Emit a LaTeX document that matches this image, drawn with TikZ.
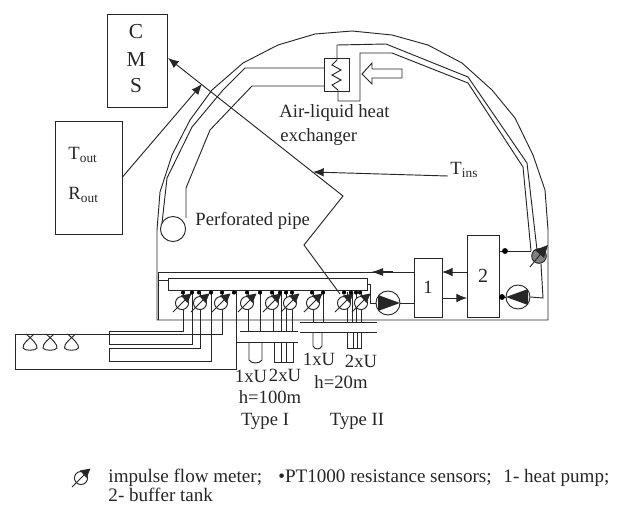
\documentclass[tikz,border=0pt]{standalone}
\usepackage{fontspec}
\usetikzlibrary{arrows.meta}
\setmainfont{Liberation Serif}
\newcommand{\sbt}[1]{\textsubscript{\fontsize{10}{11}\selectfont #1}}
\begin{document}
\begin{tikzpicture}[x=0.75pt,y=-0.75pt,line width=0.7pt,black!85,
  lbl/.style={inner sep=0pt,font=\fontsize{14}{16}\selectfont},
  cmsl/.style={inner sep=0pt,font=\fontsize{16}{18}\selectfont},
  leftl/.style={lbl,anchor=west},
  legl/.style={inner sep=0pt,anchor=west,font=\fontsize{14.3}{16}\selectfont},
  rbox/.style={draw,inner sep=0pt,rectangle},
  meter/.style={draw,fill=white,circle,inner sep=0pt,minimum size=9.8pt},
  pump/.style={draw,circle,inner sep=0pt,minimum size=18pt},
  sdot/.style={circle,fill=black,draw=none,inner sep=0pt,minimum size=3.1pt},
  jdot/.style={circle,fill=black,draw=none,inner sep=0pt,minimum size=4.4pt},
  arr/.style={-{Latex[length=8pt,width=6.5pt]}}]
\useasboundingbox (0,0) rectangle (623,511);
% dome and base
\draw (157,320) -- (157,230) -- (160,192) -- (172,155) -- (190,120) -- (212,90) -- (243,63) -- (278,45) -- (315,34) -- (352,31) -- (392,35) -- (428,45) -- (462,63) -- (492,90) -- (515,118) -- (533,155) -- (545,190) -- (548,230) -- (548,320) -- cycle;
% perforated pipe
\node[draw,circle,inner sep=0pt,minimum size=18.8pt] (perf) at (173,229) {};
\node[rbox,minimum width=18.75pt,minimum height=24.75pt] (hx) at (336.5,74.5) {};
\coordinate (hxa) at (324,68);
\coordinate (hxb) at (324,86);
\draw (162,223) -- (167,178) -- (192,127) -- (223,90) -- (245,68) -- (hxa);
\draw (186,218) -- (186,188) -- (210,130) -- (252,86) -- (hxb);
% heat exchanger coil and supply pipes
\draw (531,251) -- (523,167) -- (468,83) -- (392,53) -- (360,53) -- (360,101) -- (338,101) -- (338,90) -- (332,85) -- (341,80) -- (332,75) -- (341,70) -- (332,65) -- (337,60) -- (337,45) -- (386,44) -- (468,77) -- (527,163) -- (537,250);
% open arrow
\draw (362,74) -- (372,63) -- (372,69) -- (402,69) -- (402,78) -- (372,78) -- (372,84) -- cycle;
% boxes
\node[rbox,minimum width=45pt,minimum height=69.75pt] (cms) at (137,60.5) {};
\node[rbox,minimum width=50.6pt,minimum height=84.4pt] (tout) at (88.8,178.2) {};
\node[rbox,minimum width=21pt,minimum height=44.25pt] (b1) at (428,287.5) {};
\node[rbox,minimum width=24pt,minimum height=61.5pt] (b2) at (483,276) {};
\node[rbox,minimum width=149.25pt,minimum height=9pt] (man) at (267.5,284) {};
% labels
\node[cmsl] at (136,32) {C};
\node[cmsl] at (136,59.5) {M};
\node[cmsl] at (136,85.5) {S};
\node[leftl] at (68,155) {T\sbt{out}};
\node[leftl] at (68,195) {R\sbt{out}};
\node[leftl] at (450,170) {T\sbt{ins}};
\node[leftl] at (195,221) {Perforated pipe};
\node[leftl] at (279,113) {Air-liquid heat};
\node[leftl] at (280,137) {exchanger};
\node[lbl] at (b1) {1};
\node[lbl,font=\fontsize{15}{17}\selectfont] at (b2) {2};
\node[lbl] at (251,376) {1xU};
\node[lbl] at (285,375) {2xU};
\node[lbl] at (270,397) {h=100m};
\node[lbl] at (265,421) {Type I};
\node[lbl] at (319,359) {1xU};
\node[lbl] at (361,361) {2xU};
\node[lbl] at (341,382) {h=20m};
\node[lbl] at (357,421) {Type II};
\node[legl] at (108,478) {impulse flow meter;};
\node[legl] at (278,478) {•PT1000 resistance sensors;};
\node[legl] at (503,478) {1- heat pump;};
\node[legl] at (108,495) {2- buffer tank};
% hydraulic line to manifold
\coordinate (tl) at (158,272);
\coordinate (mm) at (158,280);
\draw (b1.west |- 0,272) -- (tl) -- (158,320);
\draw (mm) -- (168,280);
\draw[-{Latex[length=9pt,width=6pt]},line width=1.1pt] (393,272) -- (371,272);
\draw[arr] (b2.west |- 0,272) -- (442,272);
\draw[arr] (b1.east |- 0,298) -- (467,298);
% pumps
\node[pump] (p2) at (388,303) {};
\node[pump] (p1) at (518,297) {};
\fill (378,295) -- (400,303) -- (378,311) -- cycle;
\fill (528,289) -- (506,297) -- (528,305) -- cycle;
\draw (man.east |- 0,284) -- (370,284) -- (370,303) -- (p2.west);
\draw (p2.east) -- (b1.west |- p2.east);
\node[draw,circle,fill=black!50,inner sep=0pt,minimum size=11pt] (gm) at (539,256) {};
\draw (531,251) -- (499,251);
\node[jdot] at (505,251) {};
\draw (541,264) -- (543,298) -- (p1.east);
\draw (p1.west) -- (499,297);
\node[jdot] at (502,297) {};
\draw (530,267) -- (547,246);
\fill (548,245) -- (535,250) -- (544,258) -- cycle;
% loops to the left
\draw (183,292) -- (183,331) -- (109,331) -- (109,344) -- (192,344) -- (192,292);
\draw (200,292) -- (200,348) -- (109,348) -- (109,361) -- (211,361) -- (211,292);
\draw (222,292) -- (222,334) -- (15,334) -- (15,369) -- (236,369) -- (236,290);
\foreach \c in {30,50,71.5}{
  \draw (\c-4,334) .. controls (\c+2,339) and (\c+8,345) .. (\c+7,348) .. controls (\c+6,351) and (\c-6,351) .. (\c-7,348) .. controls (\c-8,344) and (\c,338) .. (\c+4,334);
}
% borehole manifolds
\draw (240,331) -- (298,331);
\draw (237,342) -- (298,342);
\draw (300,322) -- (377,322);
\draw (300,332) -- (377,332);
\foreach \x in {248,260,273,281,286,292}{ \draw (\x,292) -- (\x,331); }
\foreach \x in {313,323,347,352,356,361}{ \draw (\x,292) -- (\x,322); }
% U tubes
\draw (249,342) -- (249,360) .. controls (252,364) and (259,364) .. (262,360) -- (262,342);
\draw (274,342) -- (274,362) -- (286,362) -- (286,342);
\draw (281,342) -- (281,362) -- (293,362) -- (293,342);
\draw (313,332) -- (313,346) .. controls (315,350) and (320,350) .. (322,346) -- (322,332);
\draw (347,332) -- (347,348) -- (357,348) -- (357,332);
\draw (353,332) -- (353,348) -- (361,348) -- (361,332);
% flow meters
\foreach \n/\x in {a/182,b/200,c/221,d/247,e/272,f/290,g/313,h/344,i/361}{
  \node[meter] (m\n) at (\x,303) {};
  \draw (m\n) ++(-9,9) -- ++(16,-16);
  \fill (m\n) ++(9.5,-9.5) -- ++(-10.5,2) -- ++(6.5,7.5) -- cycle;
}
\node[meter] (mleg) at (81,478) {};
\draw (mleg) ++(-9,9) -- ++(16,-16);
\fill (mleg) ++(9.5,-9.5) -- ++(-10.5,2) -- ++(6.5,7.5) -- cycle;
% sensor dots
\foreach \x in {183,192,199,211,222,234,247,260,272,280,286,292,312,323,344,351,356,360}{
  \node[sdot] at (\x,292.5) {};
}
% sensor and CMS lines
\coordinate (toutout) at (122.5,177);
\coordinate (cmsin) at (168,58);
\coordinate (bend1) at (343,196);
\coordinate (bend2) at (304,245);
\coordinate (sens) at (340,294);
\coordinate (insstart) at (448,176);
\coordinate (instip) at (313,172);
\coordinate (rouend) at (202,84);
\draw[arr] (toutout) -- (rouend);
\draw[arr] (sens) -- (bend2) -- (bend1) -- (cmsin);
\draw[arr] (insstart) -- (instip);
\end{tikzpicture}
\end{document}
